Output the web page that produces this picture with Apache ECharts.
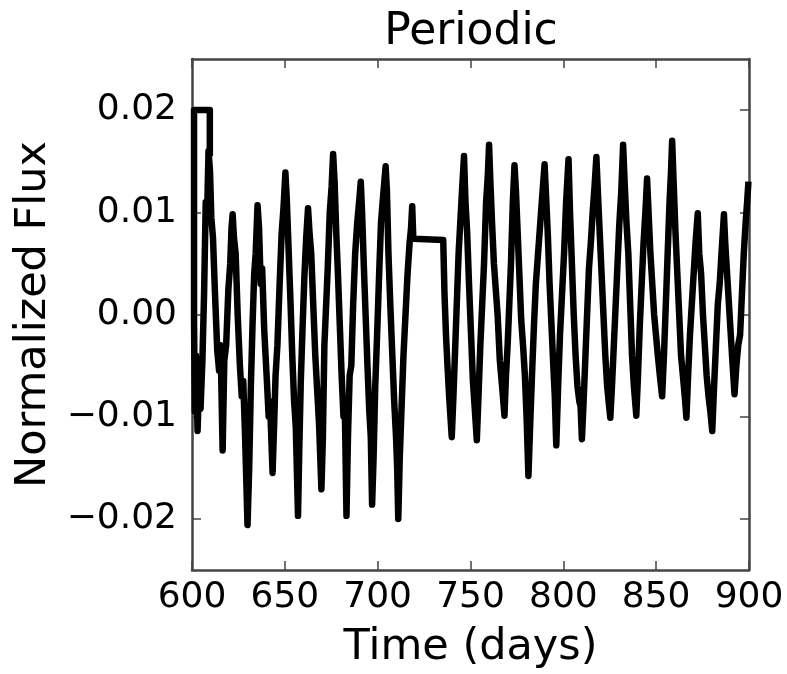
<!DOCTYPE html>
<html>
<head>
<meta charset="utf-8">
<script src="https://cdn.jsdelivr.net/npm/echarts@6/dist/echarts.min.js"></script>
<style>html,body{margin:0;padding:0;background:#fff}#c{width:787px;height:674px}</style>
</head>
<body>
<div id="c"></div>
<script>
const titleText = 'Periodic';
const xName = 'Time (days)';
const yName = 'Normalized Flux';
const xTickValues = [600, 650, 700, 750, 800, 850, 900];
const yTickValues = [-0.02, -0.01, 0.0, 0.01, 0.02];
const yTickLabels = ['\u22120.02', '\u22120.01', '0.00', '0.01', '0.02'];

const time = [
609.6,609.6,601.1,601.1,601.5,602.1,603.0,603.9,604.6,605.6,606.5,607.4,608.1,608.9,609.7,610.4,611.3,612.4,613.6,614.6,615.4,616.5,
617.4,618.4,619.6,620.6,621.3,621.9,622.6,623.5,624.6,625.8,626.8,627.6,628.6,629.9,
630.8,631.7,632.6,633.5,634.3,635.3,636.1,637.0,637.8,638.9,640.2,641.3,642.0,643.4,
644.2,645.0,646.0,647.2,648.3,649.3,650.3,651.0,651.9,653.0,654.0,655.0,655.9,657.1,
657.8,658.6,659.6,660.6,661.5,662.5,663.3,664.2,665.3,666.4,667.6,668.5,669.7,
670.5,671.3,672.1,673.1,674.2,675.2,676.0,676.8,677.7,678.6,679.6,680.6,681.6,682.3,683.2,
684.0,684.9,685.8,686.8,687.9,689.0,690.0,690.9,691.6,692.5,693.5,694.5,695.5,696.3,697.0,
697.8,698.7,699.7,700.8,701.8,702.9,703.6,704.3,705.0,705.8,706.8,707.9,708.9,709.9,710.5,711.1,
711.9,712.9,713.9,715.0,716.1,717.2,718.0,718.6,719.2,735.3,
736.0,736.8,737.6,738.5,739.2,739.9,740.7,741.6,742.6,743.6,744.5,745.4,746.5,
747.3,748.2,749.2,750.3,751.3,752.4,753.4,754.3,755.3,756.3,757.3,758.4,759.3,760.0,
760.7,761.6,762.6,763.5,764.6,765.8,767.0,768.3,769.1,770.0,770.8,771.8,772.8,773.7,
774.5,775.4,776.3,777.3,778.3,779.3,780.2,781.2,782.1,783.1,784.2,785.2,786.4,787.6,788.8,789.9,
790.6,791.6,792.6,793.6,794.6,795.4,796.2,797.2,798.2,799.3,800.4,801.5,802.8,
803.6,804.6,805.6,806.6,807.6,808.6,809.3,810.0,810.8,811.7,812.8,813.8,814.8,815.8,816.8,817.8,
818.6,819.6,820.6,821.6,822.6,823.6,824.4,825.3,826.2,827.2,828.2,829.2,830.2,831.2,832.2,
833.0,834.0,835.0,836.0,837.0,838.0,839.3,840.2,841.2,842.2,843.2,844.2,845.1,
845.9,846.9,847.9,848.9,849.9,850.9,852.0,853.2,854.2,855.2,856.2,857.2,858.0,858.6,
859.4,860.4,861.4,862.4,863.4,864.4,865.4,866.3,867.2,868.2,869.2,870.2,871.2,872.4,
873.2,874.2,875.2,876.2,877.2,878.2,879.2,880.2,881.2,882.2,883.2,884.2,885.2,886.5,
887.2,888.2,889.2,890.2,891.2,892.2,893.2,894.2,895.2,896.2,897.2,898.2,899.0,899.7
];

const flux = [
0.0155,0.0200,0.0200,-0.0005,-0.0095,-0.0040,-0.0114,-0.0060,-0.0092,-0.0045,0.0020,0.0110,0.0095,0.0160,0.0140,0.0095,0.0075,0.0020,-0.0035,-0.0055,-0.0030,-0.0133,
-0.0045,-0.0030,0.0025,0.0050,0.0085,0.0098,0.0075,0.0060,0.0000,-0.0050,-0.0080,-0.0065,-0.0120,-0.0206,
-0.0150,-0.0070,-0.0010,0.0040,0.0060,0.0107,0.0085,0.0030,0.0045,-0.0015,-0.0060,-0.0100,-0.0085,-0.0155,
-0.0110,-0.0060,-0.0030,0.0030,0.0080,0.0105,0.0139,0.0115,0.0070,0.0015,-0.0040,-0.0085,-0.0110,-0.0197,
-0.0130,-0.0065,-0.0010,0.0040,0.0075,0.0104,0.0080,0.0060,0.0010,-0.0040,-0.0080,-0.0110,-0.0171,
-0.0120,-0.0030,-0.0030,0.0045,0.0100,0.0125,0.0157,0.0130,0.0080,0.0040,-0.0010,-0.0060,-0.0100,-0.0090,-0.0197,
-0.0120,-0.0060,-0.0050,0.0010,0.0060,0.0090,0.0110,0.0130,0.0100,0.0050,0.0000,-0.0050,-0.0095,-0.0120,-0.0186,
-0.0140,-0.0070,-0.0020,0.0040,0.0090,0.0115,0.0130,0.0145,0.0120,0.0060,0.0010,-0.0040,-0.0085,-0.0120,-0.0150,-0.0200,
-0.0140,-0.0090,-0.0040,0.0000,0.0040,0.0070,0.0085,0.0106,0.0074,0.0073,
0.0020,-0.0020,-0.0050,-0.0080,-0.0100,-0.0120,-0.0085,-0.0040,0.0010,0.0060,0.0090,0.0120,0.0155,
0.0110,0.0080,0.0030,-0.0020,-0.0065,-0.0095,-0.0123,-0.0080,-0.0030,0.0010,0.0050,0.0110,0.0135,0.0166,
0.0130,0.0090,0.0050,0.0050,0.0000,-0.0045,-0.0070,-0.0099,-0.0060,-0.0030,-0.0030,0.0050,0.0110,0.0146,
0.0120,0.0080,0.0040,-0.0005,-0.0030,-0.0060,-0.0100,-0.0158,-0.0110,-0.0060,-0.0010,0.0030,0.0060,0.0090,0.0120,0.0147,
0.0120,0.0080,0.0030,-0.0010,-0.0050,-0.0080,-0.0128,-0.0070,-0.0020,0.0020,0.0060,0.0110,0.0152,
0.0100,0.0050,0.0000,-0.0040,-0.0070,-0.0085,-0.0090,-0.0122,-0.0090,-0.0050,0.0000,0.0045,0.0070,0.0100,0.0125,0.0154,
0.0120,0.0080,0.0040,0.0000,-0.0040,-0.0070,-0.0085,-0.0101,-0.0070,-0.0030,0.0010,0.0050,0.0090,0.0120,0.0166,
0.0130,0.0090,0.0060,0.0010,-0.0040,-0.0070,-0.0099,-0.0060,-0.0010,0.0030,0.0070,0.0100,0.0133,
0.0100,0.0060,0.0030,0.0000,-0.0020,-0.0040,-0.0060,-0.0080,-0.0040,0.0010,0.0060,0.0110,0.0140,0.0170,
0.0130,0.0080,0.0040,0.0000,-0.0040,-0.0060,-0.0080,-0.0101,-0.0060,-0.0020,0.0010,0.0040,0.0070,0.0099,
0.0060,0.0040,0.0000,-0.0030,-0.0060,-0.0080,-0.0095,-0.0114,-0.0070,-0.0030,0.0010,0.0030,0.0060,0.0098,
0.0070,0.0040,0.0010,-0.0020,-0.0050,-0.0078,-0.0050,-0.0030,-0.0020,0.0020,0.0060,0.0090,0.0110,0.0130
];

const points = time.map((t, i) => [t, flux[i]]);
const FONT = 'DejaVu Sans';
const frameColor = '#444';

const chart = echarts.init(document.getElementById('c'), null, {renderer: 'canvas'});
chart.setOption({
  animation: false,
  backgroundColor: '#fff',
  title: {
    text: titleText, left: 466, top: 6, textAlign: 'center',
    textStyle: {fontFamily: FONT, fontSize: 44, fontWeight: 'normal', color: '#000'}
  },
  grid: {left: 192, right: 38, top: 59, bottom: 96, containLabel: false},
  xAxis: [{
    type: 'value', min: 600, max: 900, interval: 50, position: 'bottom',
    name: xName, nameLocation: 'middle', nameGap: 56,
    nameTextStyle: {fontFamily: FONT, fontSize: 43, color: '#000'},
    axisLine: {show: true, onZero: false, lineStyle: {color: frameColor, width: 2.5}},
    axisTick: {show: true, inside: true, length: 9, lineStyle: {color: frameColor, width: 1.5}},
    axisLabel: {fontFamily: FONT, fontSize: 36, color: '#000', margin: 10, showMinLabel: true, showMaxLabel: true},
    splitLine: {show: false}
  }, {
    type: 'value', min: 600, max: 900, interval: 50, position: 'top',
    axisLine: {show: true, onZero: false, lineStyle: {color: frameColor, width: 2.5}},
    axisTick: {show: true, inside: true, length: 9, lineStyle: {color: frameColor, width: 1.5}},
    axisLabel: {show: false}, splitLine: {show: false}
  }],
  yAxis: [{
    type: 'value', min: -0.025, max: 0.025, position: 'left',
    name: yName, nameLocation: 'middle', nameGap: 133,
    nameTextStyle: {fontFamily: FONT, fontSize: 43, color: '#000'},
    axisLine: {show: true, onZero: false, lineStyle: {color: frameColor, width: 2.5}},
    axisTick: {show: true, inside: true, length: 9, customValues: yTickValues, lineStyle: {color: frameColor, width: 1.5}},
    axisLabel: {
      fontFamily: FONT, fontSize: 36, color: '#000', margin: 15, customValues: yTickValues,
      formatter: v => { const i = yTickValues.findIndex(t => Math.abs(t - v) < 1e-9); return i >= 0 ? yTickLabels[i] : ''; }
    },
    splitLine: {show: false}
  }, {
    type: 'value', min: -0.025, max: 0.025, position: 'right',
    axisLine: {show: true, onZero: false, lineStyle: {color: frameColor, width: 2.5}},
    axisTick: {show: true, inside: true, length: 9, customValues: yTickValues, lineStyle: {color: frameColor, width: 1.5}},
    axisLabel: {show: false}, splitLine: {show: false}
  }],
  series: [{
    type: 'line', data: points, xAxisIndex: 0, yAxisIndex: 0,
    showSymbol: false, symbol: 'none',
    lineStyle: {color: '#000', width: 6.5, join: 'round'},
    clip: true
  }]
});
</script>
</body>
</html>
